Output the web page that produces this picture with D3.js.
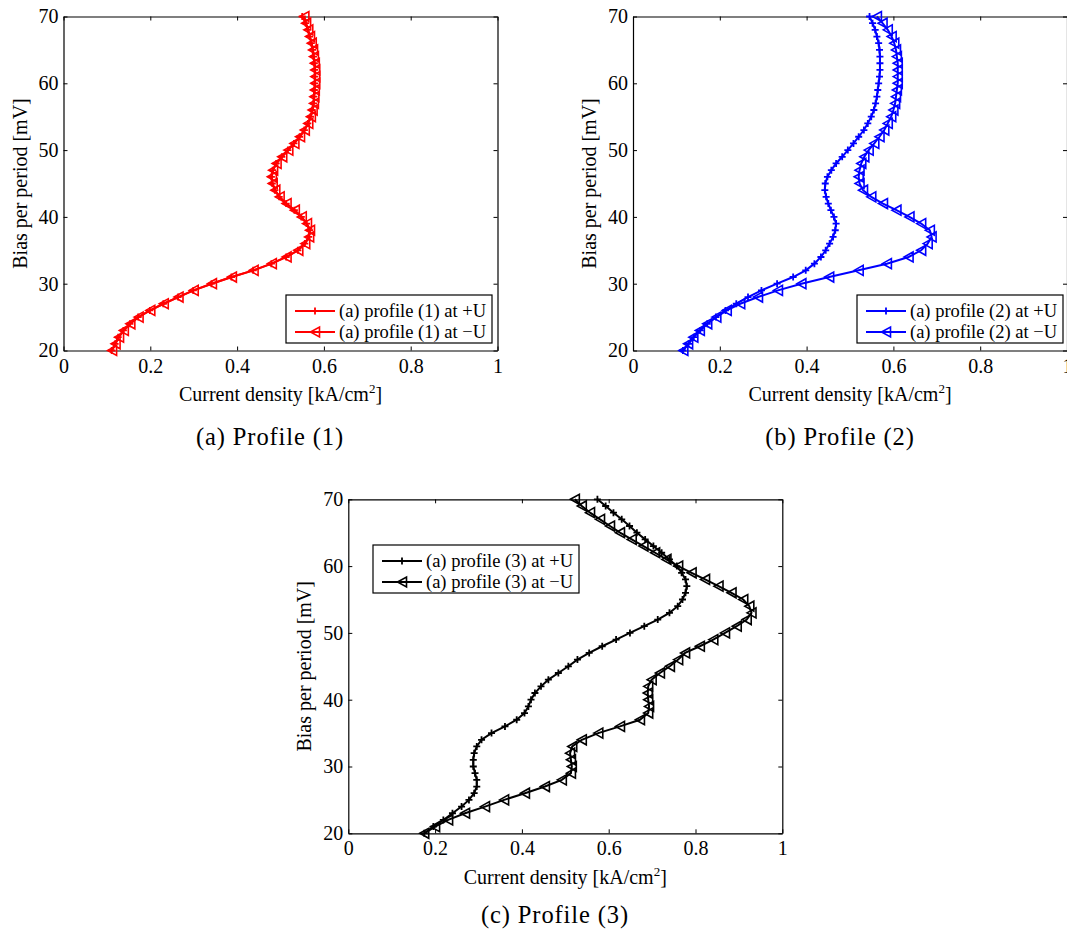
<!DOCTYPE html>
<html><head><meta charset="utf-8">
<script src="https://cdn.jsdelivr.net/npm/d3@7"></script>
<style>body{margin:0;background:#fff}svg{display:block}text{font-family:"Liberation Serif","Times New Roman",serif}</style>
</head><body><svg id="c" width="1067" height="934"></svg>
<script>
const bias = [20,21,22,23,24,25,26,27,28,29,30,31,32,33,34,35,36,37,38,39,40,41,42,43,44,45,46,47,48,49,50,51,52,53,54,55,56,57,58,59,60,61,62,63,64,65,66,67,68,69,70];
const xTicks = [0,0.2,0.4,0.6,0.8,1];
const yTicks = [20,30,40,50,60,70];

const p1Plus = [0.111,0.119,0.126,0.138,0.153,0.172,0.199,0.230,0.264,0.299,0.341,0.387,0.437,0.479,0.513,0.540,0.556,0.565,0.567,0.560,0.548,0.532,0.513,0.497,0.487,0.481,0.479,0.482,0.490,0.503,0.517,0.531,0.544,0.555,0.563,0.569,0.573,0.576,0.577,0.578,0.579,0.579,0.579,0.578,0.576,0.574,0.571,0.567,0.563,0.558,0.550];
const p1Minus = [0.112,0.120,0.128,0.139,0.154,0.173,0.200,0.231,0.265,0.300,0.342,0.388,0.438,0.480,0.514,0.541,0.557,0.566,0.568,0.561,0.549,0.533,0.514,0.498,0.488,0.482,0.480,0.483,0.491,0.504,0.518,0.532,0.545,0.556,0.564,0.570,0.574,0.577,0.578,0.579,0.580,0.580,0.580,0.579,0.577,0.575,0.572,0.568,0.564,0.559,0.555];

const p2Plus = [0.115,0.128,0.140,0.155,0.171,0.191,0.213,0.238,0.265,0.296,0.332,0.369,0.398,0.418,0.433,0.444,0.453,0.461,0.466,0.468,0.463,0.456,0.450,0.445,0.442,0.443,0.448,0.457,0.468,0.482,0.495,0.508,0.520,0.532,0.541,0.549,0.555,0.559,0.562,0.564,0.566,0.568,0.569,0.569,0.569,0.568,0.566,0.562,0.558,0.552,0.545];
const p2Minus = [0.116,0.127,0.139,0.154,0.171,0.192,0.216,0.247,0.288,0.334,0.388,0.452,0.520,0.585,0.635,0.664,0.679,0.688,0.684,0.664,0.637,0.607,0.576,0.549,0.530,0.522,0.520,0.522,0.526,0.533,0.543,0.556,0.568,0.579,0.587,0.595,0.600,0.604,0.606,0.608,0.610,0.610,0.610,0.610,0.608,0.606,0.602,0.596,0.587,0.575,0.562];

const p3Plus = [0.175,0.196,0.219,0.240,0.261,0.278,0.290,0.296,0.296,0.292,0.288,0.288,0.290,0.296,0.307,0.330,0.361,0.388,0.406,0.415,0.421,0.430,0.444,0.461,0.484,0.507,0.528,0.555,0.585,0.617,0.649,0.682,0.713,0.740,0.759,0.770,0.777,0.780,0.777,0.768,0.757,0.740,0.722,0.703,0.684,0.665,0.648,0.630,0.611,0.593,0.574];
const p3Minus = [0.175,0.200,0.230,0.269,0.315,0.359,0.407,0.453,0.492,0.513,0.515,0.513,0.511,0.516,0.538,0.576,0.626,0.672,0.691,0.693,0.691,0.690,0.691,0.699,0.718,0.741,0.760,0.776,0.810,0.841,0.868,0.895,0.918,0.929,0.924,0.910,0.883,0.853,0.822,0.791,0.760,0.733,0.707,0.680,0.653,0.626,0.603,0.580,0.557,0.538,0.522];

const svg = d3.select("#c");

function panel(o){
  const g = svg.append("g");
  const x = d3.scaleLinear().domain([0,1]).range([o.x0, o.x0+434]);
  const y = d3.scaleLinear().domain([20,70]).range([o.y0+334, o.y0]);
  const fmt = d3.format("~g");
  g.append("g").attr("transform",`translate(0,${o.y0+334})`)
    .call(d3.axisBottom(x).tickValues(xTicks).tickFormat(fmt).tickSizeInner(-4).tickSizeOuter(0).tickPadding(8));
  g.append("g").attr("transform",`translate(0,${o.y0})`)
    .call(d3.axisTop(x).tickValues(xTicks).tickFormat("").tickSizeInner(-4).tickSizeOuter(0));
  g.append("g").attr("transform",`translate(${o.x0},0)`)
    .call(d3.axisLeft(y).tickValues(yTicks).tickSizeInner(-4).tickSizeOuter(0).tickPadding(5));
  g.append("g").attr("transform",`translate(${o.x0+434},0)`)
    .call(d3.axisRight(y).tickValues(yTicks).tickFormat("").tickSizeInner(-4).tickSizeOuter(0));
  g.selectAll(".domain").attr("stroke","#000").attr("stroke-width",1.2);
  g.selectAll(".tick line").attr("stroke","#000").attr("stroke-width",1);
  g.selectAll(".tick text").attr("font-family","Liberation Serif").attr("font-size",20).attr("fill","#000");
  g.append("text").attr("x",o.x0+217).attr("y",o.y0+384.5).attr("text-anchor","middle")
    .attr("font-size",20).html('Current density [kA/cm<tspan dy="-8" font-size="13">2</tspan><tspan dy="8">]</tspan>');
  g.append("text").attr("transform",`translate(${o.x0-37},${o.y0+167}) rotate(-90)`).attr("text-anchor","middle")
    .attr("font-size",20).text("Bias per period [mV]");
  g.append("text").attr("x",o.cx).attr("y",o.capY).attr("text-anchor","middle")
    .attr("font-size",24.5).attr("letter-spacing",0.9).text(o.caption);
  const line = d3.line().x(d=>x(d[0])).y(d=>y(d[1]));
  const dPlus = o.plus.map((v,i)=>[v,bias[i]]);
  const dMinus = o.minus.map((v,i)=>[v,bias[i]]);
  const tri = "M-4.5,0L4.5,-5L4.5,5Z";
  const plus = "M-3.5,0H3.5M0,-3.5V3.5";
  [dMinus,dPlus].forEach(d=>{
    g.append("path").attr("d",line(d)).attr("fill","none").attr("stroke",o.color).attr("stroke-width",2);
  });
  g.selectAll(null).data(dMinus).join("path").attr("d",tri)
    .attr("transform",d=>`translate(${x(d[0])},${y(d[1])})`).attr("fill","none").attr("stroke",o.color).attr("stroke-width",1.6);
  g.selectAll(null).data(dPlus).join("path").attr("d",plus)
    .attr("transform",d=>`translate(${x(d[0])},${y(d[1])})`).attr("fill","none").attr("stroke",o.color).attr("stroke-width",1.8);
  const L = o.legend;
  const lg = g.append("g");
  lg.append("rect").attr("x",L.x).attr("y",L.y).attr("width",206).attr("height",48).attr("fill","#fff").attr("stroke","#000").attr("stroke-width",1.2);
  const names = [`(a) profile (${o.n}) at +U`, `(a) profile (${o.n}) at \u2212U`];
  [plus,tri].forEach((m,i)=>{
    const yy = L.y+16+i*21;
    lg.append("line").attr("x1",L.x+9).attr("x2",L.x+49).attr("y1",yy).attr("y2",yy).attr("stroke",o.color).attr("stroke-width",2);
    lg.append("path").attr("d",m).attr("transform",`translate(${L.x+29},${yy})`).attr("fill","none").attr("stroke",o.color).attr("stroke-width",i?1.6:1.8);
    lg.append("text").attr("x",L.x+53).attr("y",yy+6).attr("font-size",18.5).text(names[i]);
  });
}

panel({x0:63.5,y0:16.5,color:"#ff0000",plus:p1Plus,minus:p1Minus,n:1,caption:"(a)  Profile (1)",cx:270,capY:445,legend:{x:286,y:295}});
panel({x0:633,y0:16.5,color:"#0000ff",plus:p2Plus,minus:p2Minus,n:2,caption:"(b)  Profile (2)",cx:840,capY:445,legend:{x:857,y:295}});
panel({x0:348.3,y0:499.3,color:"#000000",plus:p3Plus,minus:p3Minus,n:3,caption:"(c)  Profile (3)",cx:555,capY:923,legend:{x:373,y:545}});
</script></body></html>
